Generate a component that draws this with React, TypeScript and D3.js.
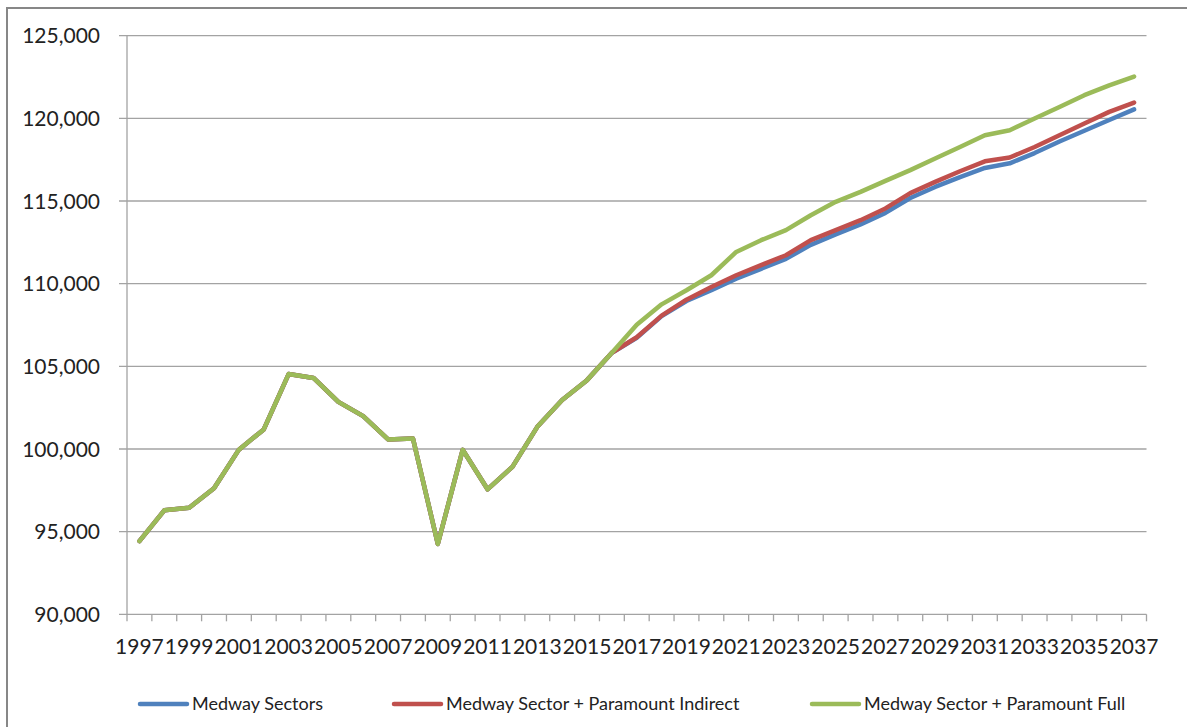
import React from "react";
import * as d3 from "d3";

// Years on the category axis
const years: number[] = d3.range(1997, 2038);

// Recorded values shared by all three scenarios (1997–2016)
const history: number[] = [
  94430, 96290, 96445, 97620, 99960, 101185, 104530, 104300, 102850, 101990,
  100580, 100640, 94250, 99950, 97560, 98920, 101340, 102960, 104165, 105820,
];

// Projections 2017–2037
const sectorsProjection: number[] = [
  106730, 108040, 108950, 109600, 110300, 110900, 111500, 112350, 112980, 113580,
  114280, 115180, 115850, 116450, 117000, 117280, 117900, 118600, 119250, 119900, 120540,
];
const indirectProjection: number[] = [
  106760, 108070, 109030, 109800, 110510, 111120, 111720, 112630, 113235, 113840,
  114550, 115480, 116155, 116800, 117400, 117630, 118270, 118980, 119690, 120390, 120955,
];
const fullProjection: number[] = [
  107520, 108750, 109600, 110510, 111920, 112630, 113235, 114140, 114950, 115550,
  116215, 116870, 117570, 118270, 118980, 119280, 119990, 120690, 121400, 122000, 122530,
];

const seriesNames: string[] = [
  "Medway Sectors",
  "Medway Sector + Paramount Indirect",
  "Medway Sector + Paramount Full",
];
const seriesColors: string[] = ["#4F81BD", "#C0504D", "#9BBB59"];
const seriesValues: number[][] = [
  history.concat(sectorsProjection),
  history.concat(indirectProjection),
  history.concat(fullProjection),
];

const yTicks: number[] = [90000, 95000, 100000, 105000, 110000, 115000, 120000, 125000];

const FONT = "Lato, 'Liberation Sans', sans-serif";

export default function App() {
  const W = 1187;
  const H = 727;
  const left = 127;
  const right = 1146.5;
  const top = 35.7;
  const bottom = 614.3;

  const x = d3.scaleBand<number>().domain(years).range([left, right]).padding(0);
  const y = d3.scaleLinear().domain([90000, 125000]).range([bottom, top]);
  const cx = (yr: number) => (x(yr) as number) + x.bandwidth() / 2;

  const line = d3
    .line<number>()
    .x((_, i) => cx(years[i]))
    .y((v) => y(v));

  const fmt = d3.format(",");
  const boundaries = years.map((yr) => x(yr) as number).concat([right]);
  const labelYears = years.filter((yr) => (yr - 1997) % 2 === 0);

  const legendX = [140, 394, 812];
  const legendY = 704;

  return (
    <svg
      width={W}
      height={H}
      style={{ position: "absolute", left: 0, top: 0, display: "block", background: "#fff" }}
    >
      {/* outer chart frame */}
      <rect x={7} y={8} width={1200} height={740} fill="#fff" stroke="#878787" strokeWidth={2} />

      {/* horizontal gridlines with outer ticks */}
      {yTicks.map((t) => (
        <line key={t} x1={left - 8} x2={right} y1={y(t)} y2={y(t)} stroke="#a3a3a3" strokeWidth={1.3} />
      ))}
      {/* value axis */}
      <line x1={left} x2={left} y1={top} y2={bottom} stroke="#a3a3a3" strokeWidth={1.3} />
      {/* category axis ticks */}
      {boundaries.map((bx, i) => (
        <line key={i} x1={bx} x2={bx} y1={bottom} y2={bottom + 7} stroke="#a3a3a3" strokeWidth={1.3} />
      ))}

      {/* value labels */}
      {yTicks.map((t) => (
        <text
          key={t}
          x={100}
          y={y(t)}
          dy="0.36em"
          textAnchor="end"
          fontFamily={FONT}
          fontSize={21}
          fill="#222"
        >
          {fmt(t)}
        </text>
      ))}

      {/* year labels */}
      {labelYears.map((yr) => (
        <text key={yr} x={cx(yr)} y={654} textAnchor="middle" fontFamily={FONT} fontSize={21} fill="#222">
          {yr}
        </text>
      ))}

      {/* series lines */}
      {seriesValues.map((vals, i) => (
        <path
          key={seriesNames[i]}
          d={line(vals) as string}
          fill="none"
          stroke={seriesColors[i]}
          strokeWidth={4.5}
          strokeLinejoin="round"
          strokeLinecap="round"
        />
      ))}

      {/* legend */}
      {seriesNames.map((name, i) => (
        <g key={name}>
          <line
            x1={legendX[i]}
            x2={legendX[i] + 47}
            y1={legendY}
            y2={legendY}
            stroke={seriesColors[i]}
            strokeWidth={4.5}
            strokeLinecap="round"
          />
          <text x={legendX[i] + 52} y={710} fontFamily={FONT} fontSize={18} fill="#222">
            {name}
          </text>
        </g>
      ))}
    </svg>
  );
}
